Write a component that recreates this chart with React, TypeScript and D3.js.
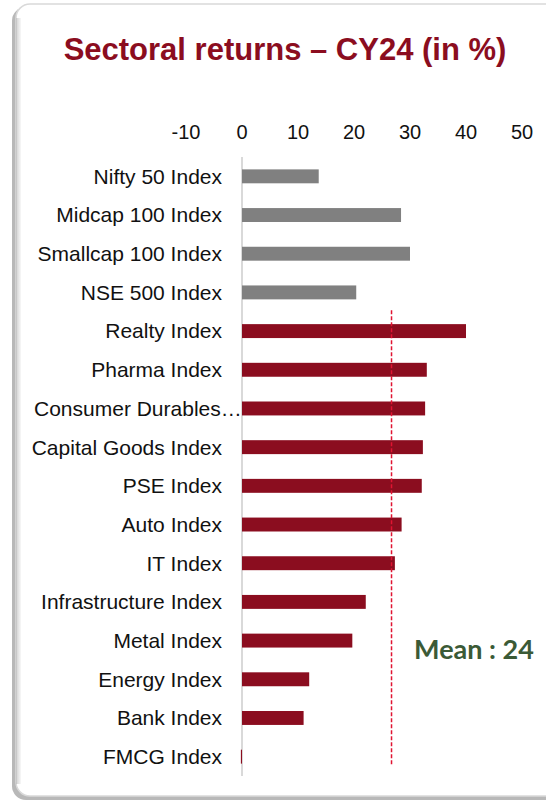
import React from "react";
import { scaleBand, scaleLinear } from "d3";

const categories = [
  "Nifty 50 Index",
  "Midcap 100 Index",
  "Smallcap 100 Index",
  "NSE 500 Index",
  "Realty Index",
  "Pharma Index",
  "Consumer Durables…",
  "Capital Goods Index",
  "PSE Index",
  "Auto Index",
  "IT Index",
  "Infrastructure Index",
  "Metal Index",
  "Energy Index",
  "Bank Index",
  "FMCG Index",
];
const returns = [13.7, 28.4, 30.0, 20.4, 40.0, 33.0, 32.7, 32.3, 32.1, 28.5, 27.3, 22.1, 19.7, 12.0, 11.0, -0.2];
const benchmarks = ["Nifty 50 Index", "Midcap 100 Index", "Smallcap 100 Index", "NSE 500 Index"];
const ticks = [-10, 0, 10, 20, 30, 40, 50];
const meanLineValue = 26.7;
const meanLabel = "Mean : 24";

const App = () => {
  const width = 546;
  const height = 804;
  const font = "'Liberation Sans', Arial, sans-serif";
  const red = "#8B0D1F";

  const xScale = scaleLinear().domain([0, 50]).range([242, 522]);
  const yScale = scaleBand().domain(categories).range([157, 776]).paddingInner(0.64).paddingOuter(0.32);

  const meanTop = yScale("Realty Index") - 14;
  const meanBottom = 765;

  return (
    <svg width={width} height={height} style={{ position: "absolute", left: 0, top: 0 }}>
      <defs>
        <linearGradient id="leftShade" x1="0" x2="1" y1="0" y2="0">
          <stop offset="0" stopColor="#b0b0b0" />
          <stop offset="1" stopColor="#f4f4f4" />
        </linearGradient>
      </defs>
      <rect width={width} height={height} fill="#fff" />
      {/* panel shadow */}
      <rect x={12} y={7} width={560} height={793} rx={14} fill="#b8b8b8" />
      <rect x={16} y={4} width={560} height={792} rx={14} fill="#fff" stroke="#d9d9d9" strokeWidth={1.5} />
      <rect x={16} y={18} width={5} height={766} fill="url(#leftShade)" opacity={0.6} />

      <text x={285} y={60} textAnchor="middle" fontFamily={font} fontWeight="bold" fontSize={31} fill={red}>
        Sectoral returns – CY24 (in %)
      </text>

      {ticks.map((t) => (
        <text key={t} x={xScale(t)} y={139} textAnchor="middle" fontFamily={font} fontSize={20} fill="#111">
          {t}
        </text>
      ))}

      <line x1={xScale(0)} x2={xScale(0)} y1={157} y2={776} stroke="#d9d9d9" strokeWidth={2} />

      {categories.map((c, i) => {
        const v = returns[i];
        const y = yScale(c);
        const isBench = benchmarks.includes(c);
        const truncated = c.endsWith("…");
        return (
          <g key={c}>
            <text
              x={truncated ? 34 : 222}
              y={y + yScale.bandwidth() / 2}
              dy="0.35em"
              textAnchor={truncated ? "start" : "end"}
              fontFamily={font}
              fontSize={21}
              fill="#111"
            >
              {c}
            </text>
            <rect
              x={Math.min(xScale(0), xScale(v))}
              y={y}
              width={Math.max(Math.abs(xScale(v) - xScale(0)), 1)}
              height={yScale.bandwidth()}
              fill={isBench ? "#808080" : red}
            />
          </g>
        );
      })}

      <line
        x1={xScale(meanLineValue)}
        x2={xScale(meanLineValue)}
        y1={meanTop}
        y2={meanBottom}
        stroke="#E01432"
        strokeWidth={1.5}
        strokeDasharray="4 2"
      />
      <text x={474} y={659} textAnchor="middle" fontFamily="Lato, 'Open Sans', sans-serif" fontWeight="bold" fontSize={27} fill="#3B5A36">
        {meanLabel}
      </text>
    </svg>
  );
};

export default App;
